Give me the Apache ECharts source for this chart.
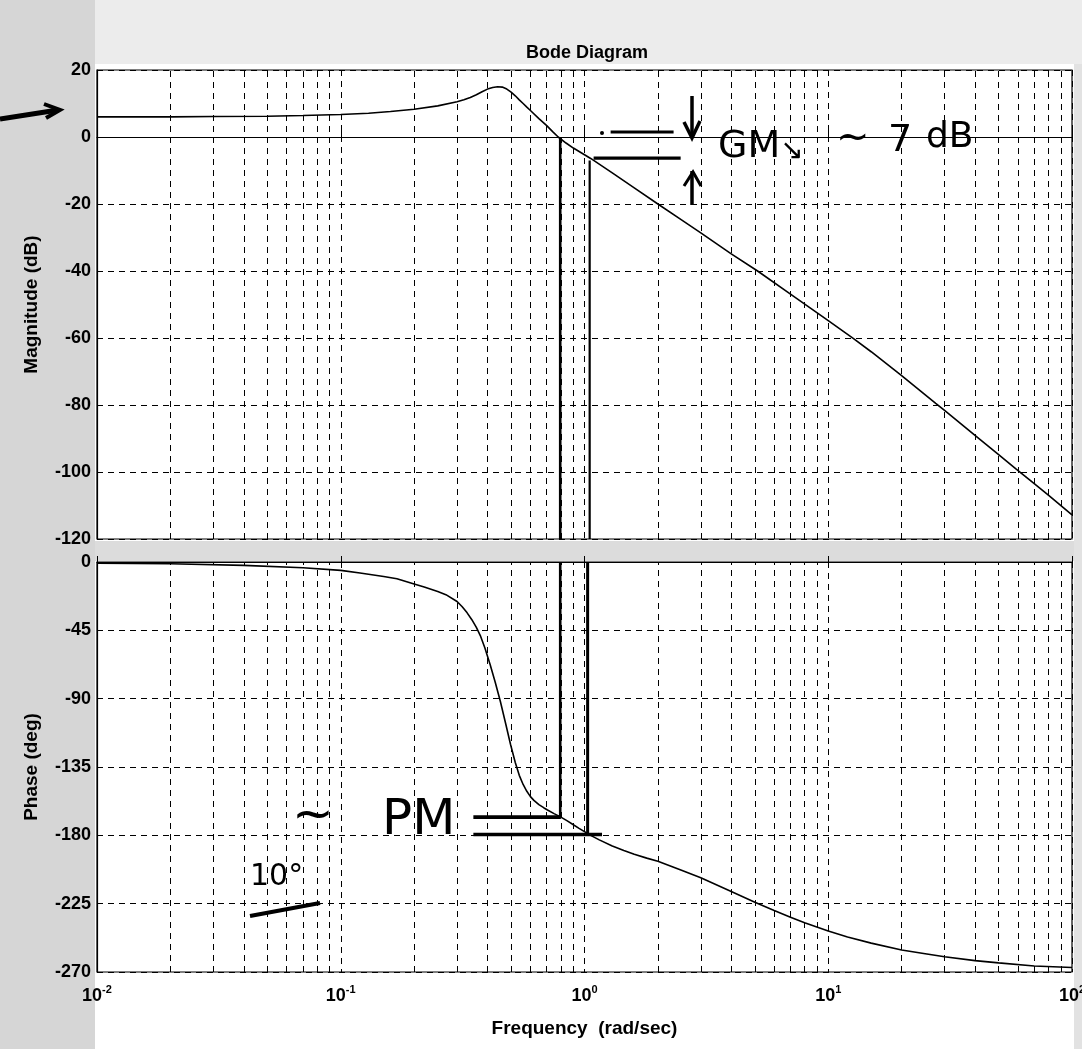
<!DOCTYPE html>
<html>
<head>
<meta charset="utf-8">
<script src="https://cdn.jsdelivr.net/npm/echarts@6/dist/echarts.min.js"></script>
<style>
html,body{margin:0;padding:0;background:#fff;}
#chart{width:1082px;height:1049px;}
</style>
</head>
<body>
<div id="chart"></div>
<script>
// ---- data ----
const magFreq = [0.01,0.02,0.03,0.05,0.07,0.1,0.13,0.16,0.2,0.25,0.3,0.32,0.34,0.36,0.38,0.40,0.42,0.44,0.46,0.48,0.50,0.52,0.54,0.56,0.58,0.60,0.65,0.70,0.74,0.78,0.84,0.9,1.0,1.06,1.3,1.6,2,2.5,3,4,5.13,7,10,12.7,15,20,27.6,30,40,50,58.7,70,80,100];
const magDb   = [6.0,6.0,6.1,6.2,6.4,6.7,7.1,7.6,8.3,9.3,10.5,11.1,11.8,12.6,13.5,14.3,14.8,15.0,14.9,14.3,13.4,12.3,11.1,10.0,8.9,7.9,5.5,3.4,1.6,0.0,-1.8,-3.3,-5.3,-6.4,-10.7,-15.2,-20,-24.75,-28.6,-34.9,-40,-46.9,-54.8,-60.2,-64.1,-71.2,-79.5,-81.6,-89.1,-94.8,-99,-103.5,-106.9,-112.8];

const phFreq = [0.01,0.02,0.04,0.07,0.1,0.12,0.15,0.17,0.2,0.22,0.25,0.27,0.3,0.315,0.33,0.345,0.36,0.375,0.39,0.41,0.43,0.452,0.475,0.497,0.52,0.54,0.56,0.58,0.6,0.62,0.65,0.68,0.705,0.75,0.8,0.85,0.9,0.95,1.0,1.05,1.15,1.3,1.45,1.6,1.8,2,2.5,3,4,5,6,7,8,10,12,15,20,25,30,40,50,70,100];
const phDeg  = [-0.8,-1.2,-2.2,-3.8,-5.5,-7.2,-9.5,-11,-14.5,-16.5,-19.5,-21.5,-26,-29.5,-33.5,-38,-43,-49,-56.5,-67.5,-79,-92,-106.5,-120,-132,-140.5,-146.5,-151,-154.5,-157,-159.8,-161.8,-163.3,-165.7,-168,-170.5,-173,-175.4,-177.6,-179.7,-183,-187,-190,-192.5,-195,-197,-203,-208,-217,-224,-229.5,-234,-237.5,-243,-247,-251,-255.5,-258,-260,-262.5,-264,-266,-267];

const magTicks = [-120,-100,-80,-60,-40,-20,0,20];
const phaseTicks = [-270,-225,-180,-135,-90,-45,0];
const minorFreqs = [];
[0.01,0.1,1,10].forEach(d => { for (let k = 2; k <= 9; k++) minorFreqs.push(+(d*k).toPrecision(3)); });

// hand-drawn margin annotations (values in axis units)
const gmBarHigh = [[1.28,1.5],[2.32,1.5]];
const gmBarLow  = [[1.09,-6.3],[2.48,-6.3]];
const wcMagLine = [[0.795,0],[0.795,-120]];
const w180MagLine = [[1.05,-7],[1.05,-120]];
const wcPhLine = [[0.795,0],[0.795,-168]];
const w180PhLine = [[1.03,0],[1.03,-180]];
const pmBarHigh = [[0.35,-168],[0.80,-168]];
const pmBarLow  = [[0.35,-179.5],[1.18,-179.5]];

// ---- chart ----
const FONT = 'Liberation Sans, Arial, sans-serif';
const gridLine = {show:true, lineStyle:{color:'#000', width:1, type:[6,5]}};
const zip = (xs, ys) => xs.map((x,i)=>[x, ys[i]]);
function minorMarks(){
  return {silent:true, symbol:['none','none'], label:{show:false},
    lineStyle:{color:'#000', width:1, type:[6,5]},
    data: minorFreqs.map(f => ({xAxis:f}))};
}
function handLine(data, xi, w){
  return {type:'line', xAxisIndex:xi, yAxisIndex:xi, data:data, showSymbol:false,
    lineStyle:{color:'#000', width:w}, silent:true, z:5};
}
const supLabel = v => '{b|10}{s|' + Math.round(Math.log10(v)) + '}';
const tickStyle = {inside:true, length:6, lineStyle:{color:'#000'}};
const axisLineStyle = {lineStyle:{color:'#000', width:1.2}};
const nameStyle = {fontFamily:FONT, fontSize:19, fontWeight:'bold', color:'#000'};

const chart = echarts.init(document.getElementById('chart'), null, {renderer:'canvas'});
const option = {
  animation:false,
  backgroundColor:'#ffffff',
  title:{text:'Bode Diagram', left:582, top:39, textAlign:'center',
    textStyle:{fontFamily:FONT, fontSize:18, fontWeight:'bold', color:'#000'}},
  grid:[
    {left:97, top:70, width:975, height:469, show:true, borderColor:'#000', borderWidth:1.2, backgroundColor:'#fff', outerBoundsMode:'none', containLabel:false},
    {left:97, top:562, width:975, height:410, show:true, borderColor:'#000', borderWidth:1.2, backgroundColor:'#fff', outerBoundsMode:'none', containLabel:false}
  ],
  xAxis:[
    {gridIndex:0, type:'log', logBase:10, min:0.01, max:100,
      axisLine:axisLineStyle, axisTick:tickStyle, axisLabel:{show:false}, splitLine:gridLine},
    {gridIndex:1, type:'log', logBase:10, min:0.01, max:100,
      name:'Frequency  (rad/sec)', nameLocation:'middle', nameGap:47, nameTextStyle:nameStyle,
      axisLine:axisLineStyle, axisTick:tickStyle,
      axisLabel:{margin:12, formatter:supLabel, color:'#000',
        rich:{b:{fontFamily:FONT, fontSize:18, fontWeight:'bold', lineHeight:24, color:'#000'},
              s:{fontFamily:FONT, fontSize:11, fontWeight:'bold', lineHeight:12, verticalAlign:'top', color:'#000'}}},
      splitLine:gridLine}
  ],
  yAxis:[
    {gridIndex:0, type:'value', min:magTicks[0], max:magTicks[magTicks.length-1], interval:20,
      name:'Magnitude (dB)', nameLocation:'middle', nameGap:56, nameTextStyle:nameStyle,
      axisLine:axisLineStyle, axisTick:tickStyle,
      axisLabel:{margin:6, fontFamily:FONT, fontSize:18, fontWeight:'bold', color:'#000'}, splitLine:gridLine},
    {gridIndex:1, type:'value', min:phaseTicks[0], max:phaseTicks[phaseTicks.length-1], interval:45,
      name:'Phase (deg)', nameLocation:'middle', nameGap:56, nameTextStyle:nameStyle,
      axisLine:axisLineStyle, axisTick:tickStyle,
      axisLabel:{margin:6, fontFamily:FONT, fontSize:18, fontWeight:'bold', color:'#000'}, splitLine:gridLine}
  ],
  series:[
    {type:'line', name:'Magnitude', xAxisIndex:0, yAxisIndex:0, data:zip(magFreq, magDb),
      showSymbol:false, lineStyle:{color:'#000', width:1.6}, z:4, markLine:minorMarks()},
    {type:'line', name:'Phase', xAxisIndex:1, yAxisIndex:1, data:zip(phFreq, phDeg),
      showSymbol:false, lineStyle:{color:'#000', width:1.6}, z:4, markLine:minorMarks()},
    handLine(gmBarHigh,0,3.2), handLine(gmBarLow,0,3.2),
    handLine(wcMagLine,0,2.6), handLine(w180MagLine,0,2.2),
    handLine(wcPhLine,1,2.6), handLine(w180PhLine,1,3),
    handLine(pmBarHigh,1,3.6), handLine(pmBarLow,1,3.6)
  ],
  graphic:[
    // scanned paper tint in the margins
    {type:'rect', z:-100, shape:{x:0,y:0,width:95,height:1049}, style:{fill:'#d6d6d6'}},
    {type:'rect', z:-100, shape:{x:95,y:0,width:987,height:64}, style:{fill:'#ececec'}},
    {type:'rect', z:-100, shape:{x:95,y:541,width:987,height:20}, style:{fill:'#dcdcdc'}},
    {type:'rect', z:-100, shape:{x:1074,y:64,width:8,height:985}, style:{fill:'#e2e2e2'}},
    // hand-written notes
    {type:'polyline', z:50, shape:{points:[[0,119],[58,110]]}, style:{stroke:'#000', lineWidth:5, fill:null}},
    {type:'polyline', z:50, shape:{points:[[44,104],[60,110],[46,118]]}, style:{stroke:'#000', lineWidth:4, fill:null}},
    {type:'circle', z:50, shape:{cx:602, cy:133, r:2}, style:{fill:'#000'}},
    {type:'polyline', z:50, shape:{points:[[692,96],[692,137]]}, style:{stroke:'#000', lineWidth:3.5, fill:null}},
    {type:'polyline', z:50, shape:{points:[[684,122],[692,138],[700,121]]}, style:{stroke:'#000', lineWidth:3.5, fill:null}},
    {type:'polyline', z:50, shape:{points:[[692,171],[692,205]]}, style:{stroke:'#000', lineWidth:3.5, fill:null}},
    {type:'polyline', z:50, shape:{points:[[684,186],[693,172],[701,186]]}, style:{stroke:'#000', lineWidth:3, fill:null}},
    {type:'text', z:50, left:718, top:128, style:{text:'GM', font:'38px DejaVu Sans', fill:'#000'}},
    {type:'text', z:50, left:780, top:138, style:{text:'↘', font:'28px DejaVu Sans', fill:'#000'}},
    {type:'text', z:50, left:836, top:120, style:{text:'~', font:'40px DejaVu Sans', fill:'#000'}},
    {type:'text', z:50, left:888, top:122, style:{text:'7', font:'38px DejaVu Sans', fill:'#000'}},
    {type:'text', z:50, left:926, top:120, style:{text:'dB', font:'36px DejaVu Sans', fill:'#000'}},
    {type:'text', z:50, left:382, top:796, style:{text:'PM', font:'50px DejaVu Sans', fill:'#000'}},
    {type:'text', z:50, left:292, top:792, style:{text:'~', font:'50px DejaVu Sans', fill:'#000'}},
    {type:'text', z:50, left:250, top:862, style:{text:'10°', font:'30px DejaVu Sans', fill:'#000'}},
    {type:'polyline', z:50, shape:{points:[[250,916],[320,903]]}, style:{stroke:'#000', lineWidth:4, fill:null}}
  ]
};
chart.setOption(option);
</script>
</body>
</html>
